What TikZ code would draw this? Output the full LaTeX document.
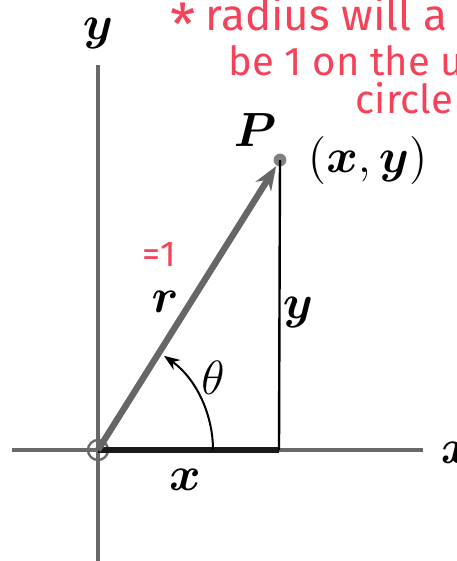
\documentclass[tikz,border=0pt]{standalone}
\usepackage{amsmath,amssymb}
\usepackage{fontspec}
\newfontfamily\handfont{Fira Sans}
\usepackage{tikz}
\usetikzlibrary{arrows.meta,positioning,calc}
\definecolor{handred}{RGB}{246,66,88}
\definecolor{axisgray}{RGB}{105,105,105}
\tikzset{
  % axes and segments
  axisline/.style={axisgray,line width=0.8pt},
  xseg/.style={black!90,line width=1.3pt},
  vertline/.style={black,line width=0.6pt},
  % radius vector and angle
  radline/.style={gray!80!black,line width=1.6pt,-{Stealth[length=6pt,width=4.5pt]}},
  anglearc/.style={black,line width=0.5pt,-{Stealth[length=4pt,width=3pt]}},
  % points
  odot/.style={circle,draw=axisgray,line width=0.6pt,minimum size=5pt,inner sep=0pt},
  pdot/.style={circle,fill=gray,minimum size=3.2pt,inner sep=0pt},
  % labels
  lbl/.style={font=\large,inner sep=1pt},
  note/.style={handred,font=\handfont\fontsize{10}{10}\selectfont,inner sep=0pt,anchor=base west},
}

\begin{document}
\begin{tikzpicture}[x=0.25pt,y=0.25pt]
\useasboundingbox (0,0) rectangle (457,561);
\clip (0,0) rectangle (457,561);

%% ---- points ----
\node[odot] (O) at (98,111) {};
\node[pdot] (P) at (280,401) {};
\coordinate (F)  at (279,111);
\coordinate (xl) at (12,111);
\coordinate (xr) at (423,111);
\coordinate (yt) at (98,496);
\coordinate (yb) at (98,0);

%% ---- axes ----
\draw[axisline] (xl) -- (xr);
\draw[axisline] (yb) -- (yt);
\draw[xseg] (O.center) -- (F);
\draw[vertline] (P.center) -- (F);

%% ---- radius and angle ----
\draw[radline] (O.center) -- (P);
\draw[anglearc] ($(O.center)+(115,0)$) arc[start angle=0,end angle=55,radius=115];

%% ---- labels ----
\node[lbl] (ylab) at (98,528) {$\boldsymbol{y}$};
\node[lbl,anchor=west] (xlab) at (436,108) {$\boldsymbol{x}$};
\node[lbl] (plab) at (255,431) {$\boldsymbol{P}$};
\node[lbl,right=4pt of P] (xylab) {$(\boldsymbol{x},\boldsymbol{y})$};
\node[lbl] (rlab) at (165,259) {$\boldsymbol{r}$};
\node[lbl] (ylab2) at (298,249) {$\boldsymbol{y}$};
\node[lbl] (xlab2) at (185,81) {$\boldsymbol{x}$};
\node[inner sep=1pt,font=\large] (thlab) at (213,183) {$\theta$};

%% ---- handwritten note ----
\node[handred,font=\handfont\Large,inner sep=0pt] (star) at (183,537) {*};
\node[note,font=\handfont\fontsize{11}{11}\selectfont] (note1) at (205,531) {radius will a};
\node[note] (note2) at (228,486) {be 1 on the u};
\node[note] (note3) at (355,448) {circle};
\node[note,font=\handfont\small] (eqone) at (142,295) {=1};
\end{tikzpicture}
\end{document}
